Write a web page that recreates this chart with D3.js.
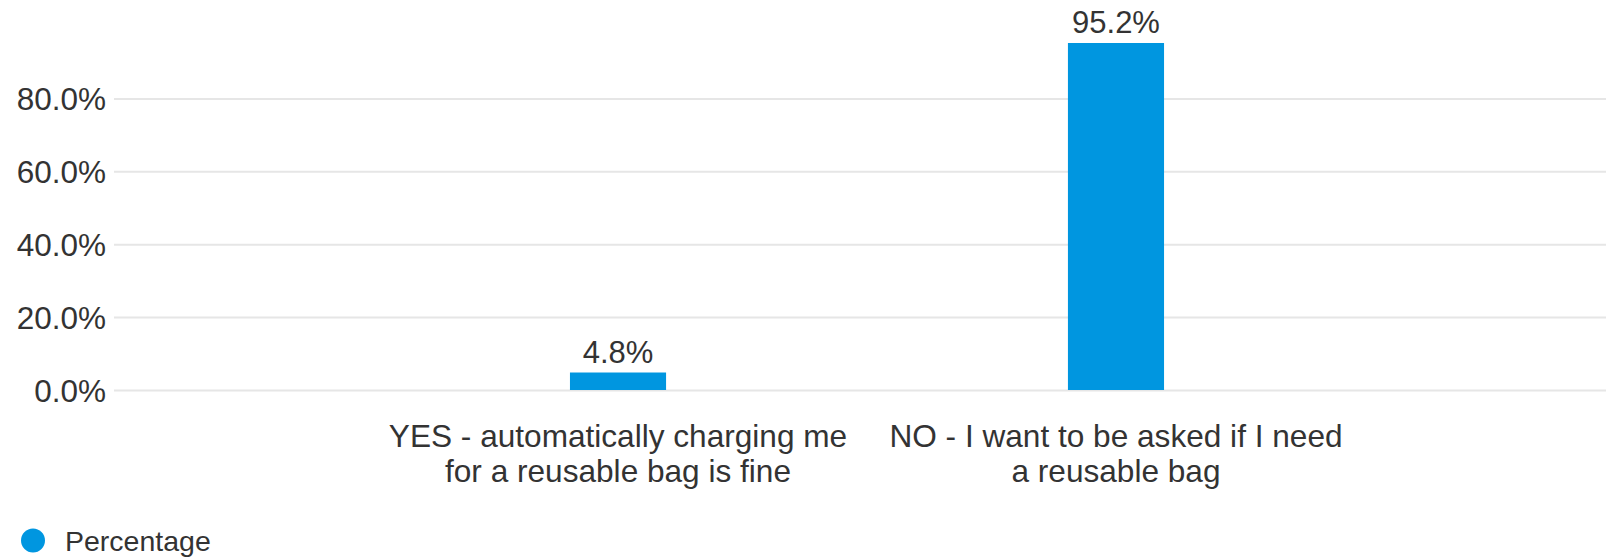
<!DOCTYPE html>
<html>
<head>
<meta charset="utf-8">
<script src="https://cdn.jsdelivr.net/npm/d3@7"></script>
<style>
  html, body { margin: 0; padding: 0; background: #ffffff; }
  svg { display: block; }
  text { font-family: "Liberation Sans", Arial, sans-serif; fill: #333333; }
</style>
</head>
<body>
<svg id="chart" width="1606" height="559"></svg>
<script>
const categories = [
  ["YES - automatically charging me", "for a reusable bag is fine"],
  ["NO - I want to be asked if I need", "a reusable bag"]
];
const categoryKeys = ["YES", "NO"];
const percentages = [0.048, 0.952];
const valueLabels = ["4.8%", "95.2%"];
const yTicks = [0, 0.2, 0.4, 0.6, 0.8];
const seriesName = "Percentage";

const svg = d3.select("#chart");
const gridLeft = 114, gridRight = 1606;
const barColor = "#0096E0";

const x = d3.scaleBand()
  .domain(categoryKeys)
  .range([128, 1606])
  .paddingInner(0.807)
  .paddingOuter(0.8875)
  .align(0.5);

const y = d3.scaleLinear().domain([0, 1]).range([390, 25.5]);

// gridlines + y labels
const yAxis = d3.axisLeft(y)
  .tickValues(yTicks)
  .tickSize(-(gridRight - gridLeft))
  .tickPadding(8)
  .tickFormat(d3.format(".1%"));

const gAxis = svg.append("g")
  .attr("transform", `translate(${gridLeft},0)`)
  .call(yAxis);
gAxis.select(".domain").remove();
gAxis.selectAll(".tick line")
  .attr("stroke", "#e6e6e6")
  .attr("stroke-width", 2);
gAxis.selectAll(".tick text")
  .attr("font-size", 31.5)
  .attr("fill", "#333333")
  .attr("dy", "0.35em")
  .style("font-family", "'Liberation Sans', Arial, sans-serif");

// bars
svg.append("g").selectAll("rect")
  .data(percentages)
  .join("rect")
  .attr("x", (d, i) => x(categoryKeys[i]))
  .attr("width", x.bandwidth())
  .attr("y", d => y(d))
  .attr("height", d => y(0) - y(d))
  .attr("fill", barColor);

// value labels
svg.append("g").selectAll("text")
  .data(percentages)
  .join("text")
  .attr("x", (d, i) => x(categoryKeys[i]) + x.bandwidth() / 2)
  .attr("y", d => y(d) - 10)
  .attr("text-anchor", "middle")
  .attr("font-size", 31)
  .text((d, i) => valueLabels[i]);

// category labels
const xAxis = d3.axisBottom(x).tickSize(0).tickFormat(() => "");
const gx = svg.append("g").attr("transform", `translate(0,${y(0)})`).call(xAxis);
gx.select(".domain").remove();
gx.selectAll(".tick").each(function(d, i) {
  const t = d3.select(this).append("text")
    .attr("text-anchor", "middle")
    .attr("font-size", 31.6)
    .attr("fill", "#333333")
    .style("font-family", "'Liberation Sans', Arial, sans-serif");
  categories[i].forEach((line, j) => {
    t.append("tspan").attr("x", 0).attr("y", 57 + j * 35).text(line);
  });
});

// legend
const legend = svg.append("g").attr("transform", "translate(33,540.5)");
legend.append("circle").attr("r", 12).attr("fill", barColor);
legend.append("text")
  .attr("x", 32)
  .attr("y", 10.5)
  .attr("font-size", 28.5)
  .text(seriesName);
</script>
</body>
</html>
